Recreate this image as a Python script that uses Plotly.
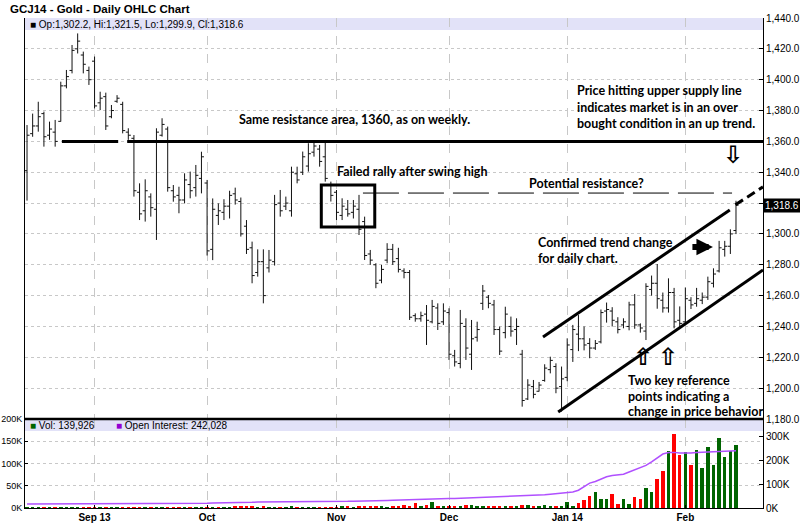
import plotly.graph_objects as go

# ---------------- data ----------------
bar_index = list(range(127))
month_tick_index = [12, 32, 55, 75, 96, 117]
month_tick_labels = ["Sep 13", "Oct", "Nov", "Dec", "Jan 14", "Feb"]

price_open = [
    1341, 1365, 1370, 1378, 1364, 1366, 1373, 1396, 1406, 1420,
    1416, 1406, 1412, 1385, 1389, 1376, 1386, 1384, 1366, 1362,
    1327, 1315, 1324, 1316, 1364, 1368, 1328, 1325, 1322, 1332,
    1330, 1336, 1333, 1290, 1312, 1314, 1318, 1326, 1321, 1305,
    1291, 1275, 1282, 1278, 1282, 1320, 1318, 1315, 1339, 1340,
    1344, 1353, 1355, 1350, 1332, 1327, 1312, 1316, 1314, 1316,
    1308, 1287, 1280, 1270, 1283, 1290, 1284, 1276, 1275, 1247,
    1245, 1248, 1243, 1252, 1243, 1249, 1221, 1216, 1240, 1222,
    1233, 1255, 1259, 1254, 1238, 1236, 1240, 1238, 1222, 1193,
    1201, 1198, 1205, 1212, 1214, 1201, 1207, 1225, 1235, 1232,
    1229, 1226, 1230, 1250, 1250, 1243, 1241, 1240, 1254, 1241,
    1237, 1264, 1268, 1257, 1252, 1262, 1244, 1243, 1257, 1255,
    1257, 1259, 1268, 1276, 1290, 1292, 1302.2]
price_high = [
    1370.6, 1378, 1385.7, 1379.3, 1372.8, 1373.9, 1398.7, 1406.3, 1422.5, 1430,
    1418.2, 1408.5, 1415, 1392.2, 1391.6, 1383.6, 1390, 1385.7, 1368.5, 1364.1,
    1332.8, 1335.4, 1326.3, 1368.5, 1375, 1369.6, 1331.7, 1330.6, 1339.3, 1340.4,
    1344.7, 1353.3, 1335, 1323, 1319.8, 1322.5, 1328, 1330, 1323.6, 1309,
    1295, 1290, 1290, 1289.6, 1325.3, 1328.5, 1324.2, 1343.6, 1343.6, 1353.4,
    1358.8, 1360.9, 1357.7, 1360.9, 1333.9, 1328.5, 1323.1, 1322, 1322, 1325.3,
    1311.2, 1289.6, 1281, 1279.9, 1294, 1293.5, 1291, 1277.7, 1276.6, 1248.5,
    1249.6, 1253.9, 1257.2, 1255, 1255, 1251.8, 1224.8, 1250.7, 1245.3, 1244.2,
    1243.1, 1266.9, 1260.4, 1257.2, 1239.9, 1252.8, 1246.4, 1245.3, 1224.8, 1205.8,
    1205.3, 1204, 1215.5, 1220.4, 1216.1, 1214, 1232.3, 1241, 1247.4, 1240,
    1232.4, 1231.2, 1251, 1255.5, 1252.5, 1246, 1245.3, 1256, 1261, 1242,
    1268, 1273, 1280.5, 1262, 1271.2, 1265, 1253, 1265.3, 1259, 1265,
    1262, 1272.3, 1277.7, 1295.5, 1295.5, 1303, 1321.5]
price_low = [
    1321.6, 1363, 1366.3, 1356.6, 1361, 1356.6, 1372.8, 1394.4, 1404.1, 1417,
    1404.1, 1396.6, 1381.4, 1380.3, 1367.4, 1375, 1385, 1365.2, 1361, 1324.2,
    1309, 1308, 1311.2, 1296.1, 1363.1, 1327.4, 1320.9, 1313.4, 1319.8, 1323.1,
    1324.2, 1326.3, 1286, 1283, 1305.8, 1309, 1310, 1319, 1298.3, 1287,
    1268, 1272.3, 1255, 1275, 1279.5, 1311.2, 1315.5, 1311.2, 1332.8, 1338.2,
    1340.4, 1350.1, 1343.6, 1333.9, 1321, 1309, 1309, 1311.2, 1310, 1299.3,
    1283.1, 1279.9, 1264.8, 1268, 1281, 1279.9, 1275, 1271.2, 1244.2, 1243.1,
    1243.1, 1228, 1242, 1237.7, 1241, 1218.3, 1214, 1212.9, 1218.3, 1211.8,
    1230.2, 1250.7, 1251.8, 1234.5, 1221.5, 1232.3, 1233.4, 1228, 1188, 1192.3,
    1193.4, 1197.8, 1204.2, 1209.6, 1196.7, 1184.8, 1204.5, 1217, 1224, 1224.5,
    1219.4, 1224.8, 1229, 1242.5, 1240, 1235.5, 1238.8, 1237.5, 1238.5, 1236,
    1231.2, 1260, 1251.5, 1249, 1249, 1238.8, 1239.5, 1241, 1251.3, 1252.8,
    1254.5, 1257.2, 1265.3, 1275, 1285.3, 1287, 1299.9]
price_close = [
    1364, 1370, 1376, 1363, 1368, 1360, 1396, 1402, 1419, 1425,
    1410, 1400, 1383, 1388, 1370, 1380, 1388, 1367, 1364, 1328,
    1313, 1328, 1317, 1366, 1371, 1330, 1324, 1322, 1335, 1328,
    1338, 1350, 1289, 1316, 1315, 1318, 1325, 1322, 1300, 1290,
    1273, 1282, 1260, 1283, 1319, 1315, 1320, 1340, 1335, 1350,
    1352, 1357, 1347, 1336, 1325, 1314, 1318, 1313, 1318, 1303,
    1286, 1283, 1268, 1277, 1290, 1282, 1277, 1275, 1246, 1245,
    1247, 1244, 1253, 1242, 1250, 1222, 1217, 1242, 1226, 1232,
    1238, 1263, 1255, 1238, 1224, 1248, 1237, 1240, 1192, 1202,
    1196, 1202, 1213, 1218, 1200, 1206, 1228, 1238, 1232, 1228,
    1226, 1229, 1249, 1251, 1244, 1238, 1243, 1254, 1241, 1239,
    1266, 1268, 1258, 1252, 1262, 1243, 1242, 1258, 1254, 1258,
    1259, 1269, 1274, 1291, 1292, 1300, 1318.6]

volume = [
    500, 500, 500, 500, 500, 500, 500, 500, 500, 500,
    3000, 500, 500, 500, 500, 500, 500, 500, 500, 3000,
    500, 500, 500, 3000, 500, 500, 500, 500, 500, 500,
    500, 500, 800, 800, 800, 800,
    4000, 8000, 5000, 5000, 5000, 2000, 7000, 4000, 2000, 2000,
    2000, 5000, 2000, 2000, 4000, 3000, 2000, 2000, 4000, 4000,
    5000, 5000, 4000, 7000, 9000, 6000, 5000, 5000, 4000, 5000, 6000,
    11000, 9000, 20000, 10000, 12000, 24000, 9000, 9000, 9000, 6000,
    6000, 12000, 12000, 6000, 6000, 9000, 9000, 5000, 9000, 10000,
    10000, 12000, 12000, 6000, 6000, 11000, 9000, 6000, 9000,
    26000, 10000, 20000, 32000, 51000, 69000, 40000, 37000, 58000, 17000,
    40000, 17000, 47000, 37000, 86000, 69000, 124000, 158000, 240000, 314000,
    222000, 237000, 181000, 243000, 168000, 259000, 181000, 295000, 214000, 242000,
    268000]
open_interest_k = [
    17, 17, 17, 17, 17, 17, 18, 18, 18, 18, 18, 18,
    18, 18, 19, 19, 19, 19, 19, 20, 20, 20, 20, 20,
    20, 20, 20, 20, 20, 20, 20, 20, 20, 21, 21, 22,
    22, 23, 23, 24, 24, 25, 25, 25, 25, 25, 25, 26,
    26, 26, 26, 26, 26, 26, 27, 27, 28, 28, 29, 29,
    29, 30, 31, 31, 32, 33, 34, 35, 35, 36, 36, 37,
    37, 38, 39, 40, 40, 41, 41, 42, 42, 43, 44, 45,
    47, 48, 48, 49, 50, 51, 54, 55, 56, 58, 60, 62,
    64, 68, 75, 90, 105, 112, 121, 132, 137, 140, 143, 152,
    162, 171, 180, 195, 211, 228, 234, 235, 232, 231, 232, 234,
    236, 237, 238, 239, 240, 241, 242]
open_interest = [v * 1000 for v in open_interest_k]

price_tick_values = [1180, 1200, 1220, 1240, 1260, 1280, 1300, 1320, 1340,
                     1360, 1380, 1400, 1420, 1440]
price_tick_labels = ["1,180.0", "1,200.0", "1,220.0", "1,240.0", "1,260.0",
                     "1,280.0", "1,300.0", "", "1,340.0", "1,360.0",
                     "1,380.0", "1,400.0", "1,420.0", "1,440.0"]
vol_left_ticks = [0, 50000, 100000, 150000, 200000]
vol_left_labels = ["0K", "50K", "100K", "150K", "200K"]
vol_right_ticks = [0, 100000, 200000, 300000]
vol_right_labels = ["0K", "100K", "200K", "300K"]

last_label = "1,318.6"
ohlc_legend = "Op:1,302.2, Hi:1,321.5, Lo:1,299.9, Cl:1,318.6"
vol_legend = "Vol: 139,926"
oi_legend = "Open Interest: 242,028"

# ---------------- layout geometry ----------------
W, H = 800, 524
def px_x(p):
    return p / W
def px_y(p):
    return (H - p) / H

X_L, X_R = px_x(25), px_x(763)
P_TOP, P_BOT = px_y(18), px_y(419)
V_TOP, V_BOT = px_y(419), px_y(508)

GREEN = "#006400"
RED = "#ff0000"
NAVY = "#000080"
PURPLE = "#b050ff"
BAND = "#e2e2f8"
GRID = "#c8c8c8"

vol_colors = []
for i, c in enumerate(price_close):
    prev = price_close[i - 1] if i > 0 else price_open[0]
    vol_colors.append(GREEN if c > prev else (RED if c < prev else NAVY))

fig = go.Figure()
fig.add_trace(go.Ohlc(
    x=bar_index, open=price_open, high=price_high, low=price_low, close=price_close,
    xaxis="x", yaxis="y", tickwidth=0.45,
    increasing=dict(line=dict(color="#111111", width=1)),
    decreasing=dict(line=dict(color="#111111", width=1)),
    showlegend=False, hoverinfo="skip"))
fig.add_trace(go.Bar(
    x=bar_index, y=volume, marker=dict(color=vol_colors, line=dict(width=0)),
    width=0.62, xaxis="x", yaxis="y3", showlegend=False, hoverinfo="skip"))
fig.add_trace(go.Scatter(
    x=bar_index, y=open_interest, mode="lines", line=dict(color=PURPLE, width=1.5),
    xaxis="x", yaxis="y3", showlegend=False, hoverinfo="skip"))
fig.add_trace(go.Scatter(
    x=[bar_index[0]], y=[0], mode="markers", marker=dict(opacity=0),
    xaxis="x", yaxis="y4", showlegend=False, hoverinfo="skip"))

axis_font = dict(family="Liberation Sans, Arial", size=10, color="black")

fig.update_layout(
    width=W, height=H, margin=dict(l=0, r=0, t=0, b=0, autoexpand=False),
    paper_bgcolor="white", plot_bgcolor="white",
    bargap=0, showlegend=False,
    xaxis=dict(domain=[X_L, X_R], range=[-0.36, 130.8], anchor="y3", automargin=False,
               tickvals=month_tick_index,
               ticktext=["<b>%s</b>" % t for t in month_tick_labels],
               tickfont=axis_font, ticks="inside", ticklen=3, tickcolor="black",
               showgrid=True, gridcolor=GRID, griddash="dash", gridwidth=1,
               showline=True, linecolor="black", linewidth=1,
               zeroline=False, rangeslider=dict(visible=False)),
    yaxis=dict(domain=[P_BOT, P_TOP], range=[1180, 1440], side="right", automargin=False,
               tickvals=price_tick_values, ticktext=price_tick_labels,
               tickfont=axis_font, ticks="inside", ticklen=4, tickcolor="black",
               showgrid=True, gridcolor=GRID, griddash="dot", gridwidth=1,
               showline=True, linecolor="black", linewidth=1, mirror=True,
               zeroline=False),
    yaxis3=dict(domain=[V_BOT, V_TOP], range=[0, 376000], side="right", automargin=False,
                tickvals=vol_right_ticks, ticktext=vol_right_labels,
                tickfont=axis_font, ticks="inside", ticklen=4, tickcolor="black",
                showgrid=False, showline=True, linecolor="black", linewidth=1,
                zeroline=False),
    yaxis4=dict(overlaying="y3", range=[0, 200000], side="left", anchor="x", automargin=False,
                tickvals=vol_left_ticks, ticktext=vol_left_labels,
                tickfont=dict(family="Liberation Sans, Arial", size=9, color="black"),
                ticks="inside", ticklen=3, tickcolor="black",
                showgrid=True, gridcolor=GRID, griddash="dot", gridwidth=1,
                showline=True, linecolor="black", linewidth=1, zeroline=False),
)

shapes = []
shapes.append(dict(type="rect", xref="paper", yref="paper", x0=X_L, x1=X_R,
                   y0=px_y(30), y1=P_TOP, fillcolor=BAND, line=dict(width=0),
                   layer="between"))
shapes.append(dict(type="rect", xref="paper", yref="paper", x0=X_L, x1=X_R,
                   y0=px_y(431), y1=V_TOP, fillcolor=BAND, line=dict(width=0),
                   layer="between"))
shapes.append(dict(type="line", xref="paper", yref="paper", x0=X_L, x1=X_R,
                   y0=V_TOP, y1=V_TOP, line=dict(color="black", width=2.5)))
shapes.append(dict(type="line", xref="x", yref="y", x0=6.2, x1=16.2, y0=1360, y1=1360,
                   line=dict(color="black", width=3)))
shapes.append(dict(type="line", xref="x", yref="y", x0=17.8, x1=130.8, y0=1360, y1=1360,
                   line=dict(color="black", width=3)))
shapes.append(dict(type="line", xref="x", yref="y", x0=59.7, x1=125.3, y0=1326.5, y1=1326.5,
                   line=dict(color="black", width=1, dash="36px,9px")))
shapes.append(dict(type="rect", xref="x", yref="y", x0=52.3, x1=61.8, y0=1304.5, y1=1331.7,
                   line=dict(color="black", width=3)))
shapes.append(dict(type="line", xref="x", yref="y", x0=91.7, x1=124.9, y0=1233.2, y1=1315.5,
                   line=dict(color="black", width=3)))
shapes.append(dict(type="line", xref="x", yref="y", x0=125.9, x1=130.8, y0=1318.9, y1=1330.5,
                   line=dict(color="black", width=3, dash="9px,5px")))
shapes.append(dict(type="line", xref="x", yref="y", x0=94.4, x1=130.8, y0=1184.6, y1=1276.6,
                   line=dict(color="black", width=3)))
fig.update_layout(shapes=shapes)

note_font = dict(family="Lato, Open Sans, sans-serif", size=12.5, color="black")
notes = [
    ("Same resistance area, 1360, as on weekly.", 37.5, 1374.5),
    ("Failed rally after swing high", 55.0, 1340.4),
    ("Potential resistance?", 89.0, 1333.0),
    ("Price hitting upper supply line", 97.6, 1392.7),
    ("indicates market is in an over", 97.6, 1382.0),
    ("bought condition in an up trend.", 97.6, 1371.3),
    ("Confirmed trend change", 90.6, 1294.3),
    ("for daily chart.", 90.6, 1284.2),
    ("Two key reference", 106.6, 1204.7),
    ("points indicating a", 106.6, 1194.6),
    ("change in price behavior", 106.6, 1184.6),
]
ann = []
for t, x, y in notes:
    ann.append(dict(text="<b>%s</b>" % t, x=x, y=y, xref="x", yref="y",
                    xanchor="left", yanchor="middle", showarrow=False, font=note_font,
                    borderpad=0))
arrow_font = dict(family="DejaVu Sans", size=24, color="black")
ann.append(dict(text="<b>\u21e9</b>", x=125.5, y=1351.0, xref="x", yref="y", showarrow=False,
                font=arrow_font, xanchor="center", yanchor="middle"))
ann.append(dict(text="<b>\u21e7</b>", x=109.5, y=1220.0, xref="x", yref="y", showarrow=False,
                font=arrow_font, xanchor="center", yanchor="middle"))
ann.append(dict(text="<b>\u21e7</b>", x=114.0, y=1220.0, xref="x", yref="y", showarrow=False,
                font=arrow_font, xanchor="center", yanchor="middle"))
ann.append(dict(text="", x=121.9, y=1291.5, xref="x", yref="y", showarrow=True,
                ax=-22, ay=0, arrowhead=2, arrowsize=0.55, arrowwidth=6, arrowcolor="black"))
ann.append(dict(text="<b>GCJ14 - Gold - Daily OHLC Chart</b>", x=px_x(8), y=px_y(9),
                xref="paper", yref="paper", xanchor="left", yanchor="middle",
                showarrow=False, font=dict(family="Liberation Sans, Arial", size=11.5, color="black")))
ann.append(dict(text="\u25a0 " + ohlc_legend, x=px_x(28), y=px_y(24.5),
                xref="paper", yref="paper", xanchor="left", yanchor="middle",
                showarrow=False, font=axis_font))
ann.append(dict(text="<span style='color:%s'>\u25a0</span> %s" % (GREEN, vol_legend),
                x=px_x(28), y=px_y(425.5), xref="paper", yref="paper",
                xanchor="left", yanchor="middle", showarrow=False, font=axis_font))
ann.append(dict(text="<span style='color:#9400d3'>\u25a0</span> %s" % oi_legend,
                x=px_x(114), y=px_y(425.5), xref="paper", yref="paper",
                xanchor="left", yanchor="middle", showarrow=False, font=axis_font))
ann.append(dict(text=last_label, x=X_R, y=price_close[-1], xref="paper", yref="y",
                xanchor="left", yanchor="middle", showarrow=False,
                bgcolor="black", borderpad=1,
                font=dict(family="Liberation Sans, Arial", size=10, color="white")))
fig.update_layout(annotations=ann)

fig.write_html("out.html", config={"displayModeBar": False},
               post_script="document.body.style.margin='0px';document.body.style.padding='0px';")
